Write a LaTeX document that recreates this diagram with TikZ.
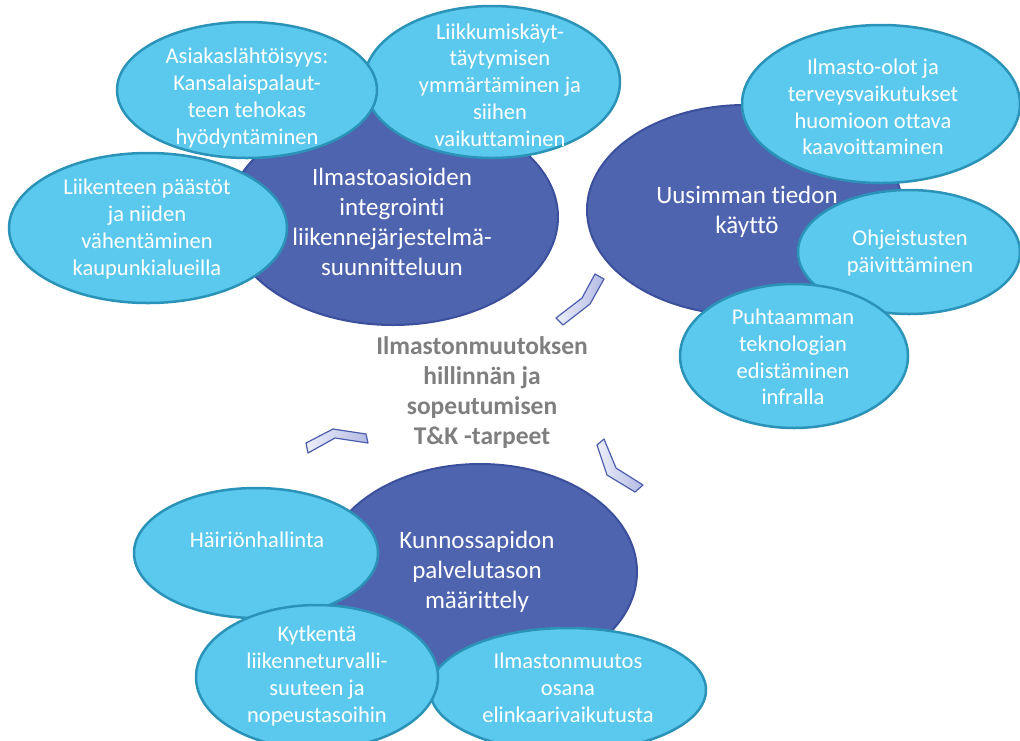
\documentclass[tikz,border=0pt]{standalone}
\usepackage{fontspec}
\setmainfont{Carlito}[Ligatures={NoCommon}]
\usetikzlibrary{shapes.geometric}
\definecolor{lightfill}{HTML}{5BC9EE}
\definecolor{lightborder}{HTML}{2B93B8}
\definecolor{darkfill}{HTML}{4F64AF}
\definecolor{darkborder}{HTML}{3C4F9C}
\definecolor{centergray}{HTML}{7F7F7F}
\definecolor{chevA}{HTML}{ECEEF9}
\definecolor{chevB}{HTML}{B3BBE4}
\definecolor{chevborder}{HTML}{4D5DAE}
\begin{document}
\begin{tikzpicture}[x=1pt,y=-1pt,
  lell/.style={ellipse,draw=lightborder,fill=lightfill,line width=2.5pt,inner sep=0pt},
  dell/.style={ellipse,draw=darkborder,fill=darkfill,line width=2pt,inner sep=0pt},
  ltxt/.style={text=white,align=center,font=\fontsize{22.5}{26.8}\selectfont,inner sep=0pt},
  dtxt/.style={text=white,align=center,font=\fontsize{25}{30}\selectfont,inner sep=0pt},
  ctxt/.style={text=centergray,align=center,font=\bfseries\fontsize{25.5}{30}\selectfont,inner sep=0pt},
  chev/.style={draw=chevborder,line width=1.2pt,line join=round,left color=chevA,right color=chevB}]
\useasboundingbox (0,0) rectangle (1020,740);
\fill[white] (0,0) rectangle (1020,740);

% dark ellipses
\node[dell,minimum width=330pt,minimum height=216pt] (d1) at (393,217) {};
\node[dell,minimum width=316pt,minimum height=210pt] (d2) at (745,210) {};
\node[dell,minimum width=314pt,minimum height=216pt] (d3) at (480,572) {};

% light ellipses, top-left group
\node[lell,minimum width=256pt,minimum height=152pt] (l2) at (492,82) {};
\node[lell,minimum width=278pt,minimum height=150pt] (l3) at (148,228) {};
\node[lell,minimum width=260pt,minimum height=136pt] (l1) at (247,90) {};

% right group
\node[lell,minimum width=278pt,minimum height=158pt] (r1) at (881,104) {};
\node[lell,minimum width=222pt,minimum height=124pt] (r2) at (909,252) {};
\node[lell,minimum width=228pt,minimum height=144pt] (r3) at (794,356) {};

% bottom group
\node[lell,minimum width=244pt,minimum height=130pt] (b1) at (256,553) {};
\node[lell,minimum width=276pt,minimum height=124pt] (b3) at (568,690) {};
\node[lell,minimum width=242pt,minimum height=144pt] (b2) at (317,677) {};

% texts
\node[dtxt] (t-d1) at (392,222) {Ilmastoasioiden\\integrointi\\liikennejärjestelmä-\\suunnitteluun};
\node[dtxt] (t-d2) at (747,212) {Uusimman tiedon\\käyttö};
\node[dtxt] (t-d3) at (477,572) {Kunnossapidon\\palvelutason\\määrittely};

\node[ltxt] (t-l1) at (247,98) {Asiakaslähtöisyys:\\Kansalaispalaut-\\teen tehokas\\hyödyntäminen};
\node[ltxt] (t-l2) at (500,85) {Liikkumiskäyt-\\täytymisen\\ymmärtäminen ja\\siihen\\vaikuttaminen};
\node[ltxt] (t-l3) at (147,229) {Liikenteen päästöt\\ja niiden\\vähentäminen\\kaupunkialueilla};

\node[ltxt] (t-r1) at (873,107) {Ilmasto-olot ja\\terveysvaikutukset\\huomioon ottava\\kaavoittaminen};
\node[ltxt] (t-r2) at (910,253) {Ohjeistusten\\päivittäminen};
\node[ltxt] (t-r3) at (793,357) {Puhtaamman\\teknologian\\edistäminen\\infralla};

\node[ltxt] (t-b1) at (257,540) {Häiriönhallinta};
\node[ltxt] (t-b2) at (317,676) {Kytkentä\\liikenneturvalli-\\suuteen ja\\nopeustasoihin};
\node[ltxt] (t-b3) at (568,688) {Ilmastonmuutos\\osana\\elinkaarivaikutusta};

\node[ctxt] (center) at (482,393) {Ilmastonmuutoksen\\hillinnän ja\\sopeutumisen\\T\&K -tarpeet};

% chevrons
\draw[chev] (595,274) -- (604,279) -- (590,304) -- (563,325) -- (556,318) -- (582,298) -- cycle;
\draw[chev] (306,443) -- (333,429) -- (366,434) -- (368,443) -- (335,438) -- (308,453) -- cycle;
\draw[chev] (597,445) -- (604,439) -- (616,468) -- (643,485) -- (635,492) -- (607,475) -- cycle;
\end{tikzpicture}
\end{document}
